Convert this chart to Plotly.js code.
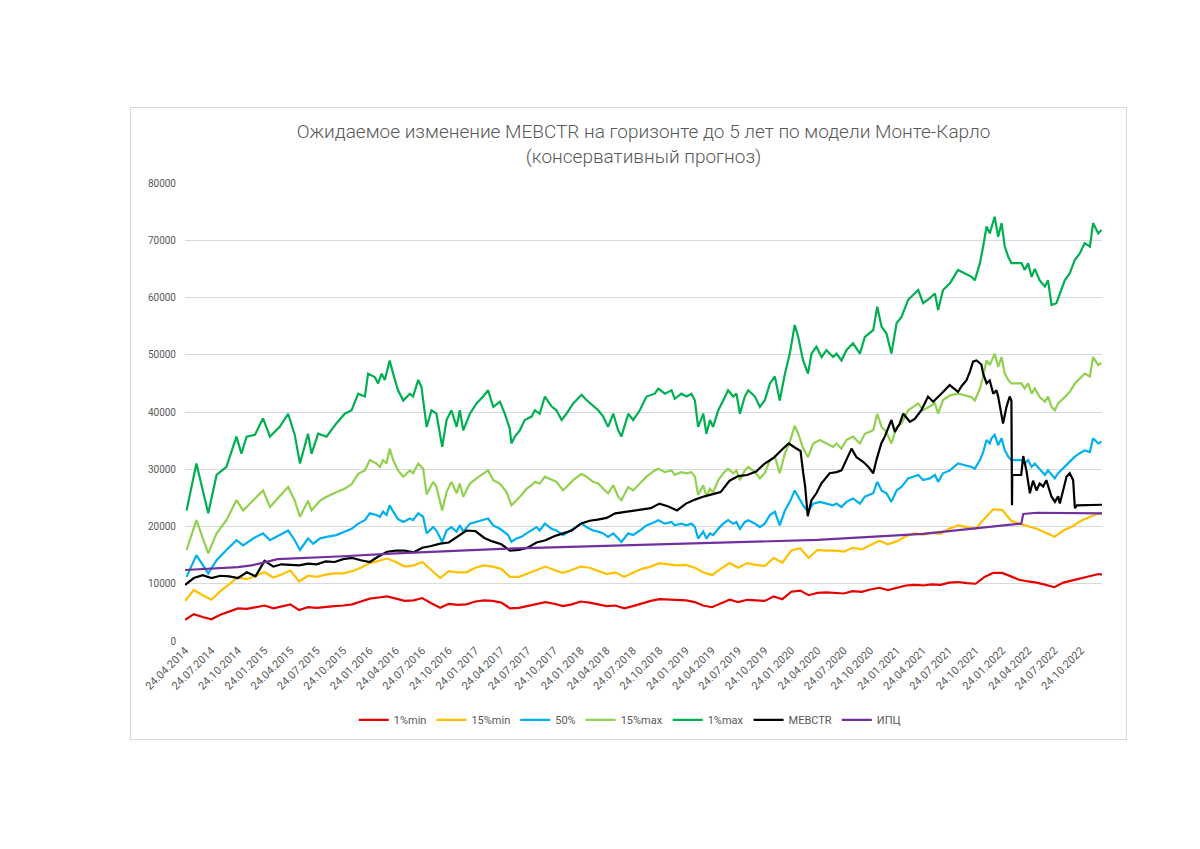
<!DOCTYPE html>
<html>
<head>
<meta charset="utf-8">
<script src="https://cdn.plot.ly/plotly-3.0.1.min.js"></script>
<style>
html,body{margin:0;padding:0;background:#fff;width:1200px;height:849px;overflow:hidden;}
#frame{position:absolute;left:130px;top:107px;width:997px;height:633px;border:1px solid #d9d9d9;box-sizing:border-box;}
#chart{width:995px;height:631px;}
</style>
</head>
<body>
<div id="frame"><div id="chart"></div></div>
<script>
// Monthly sample dates (24th of each month) for the lower percentile series
const dates = ['2014-04-24','2014-05-24','2014-06-24','2014-07-24','2014-08-24','2014-09-24','2014-10-24','2014-11-24','2014-12-24',
'2015-01-24','2015-02-24','2015-03-24','2015-04-24','2015-05-24','2015-06-24','2015-07-24','2015-08-24','2015-09-24','2015-10-24','2015-11-24','2015-12-24',
'2016-01-24','2016-02-24','2016-03-24','2016-04-24','2016-05-24','2016-06-24','2016-07-24','2016-08-24','2016-09-24','2016-10-24','2016-11-24','2016-12-24',
'2017-01-24','2017-02-24','2017-03-24','2017-04-24','2017-05-24','2017-06-24','2017-07-24','2017-08-24','2017-09-24','2017-10-24','2017-11-24','2017-12-24',
'2018-01-24','2018-02-24','2018-03-24','2018-04-24','2018-05-24','2018-06-24','2018-07-24','2018-08-24','2018-09-24','2018-10-24','2018-11-24','2018-12-24',
'2019-01-24','2019-02-24','2019-03-24','2019-04-24','2019-05-24','2019-06-24','2019-07-24','2019-08-24','2019-09-24','2019-10-24','2019-11-24','2019-12-24',
'2020-01-24','2020-02-24','2020-03-24','2020-04-24','2020-05-24','2020-06-24','2020-07-24','2020-08-24','2020-09-24','2020-10-24','2020-11-24','2020-12-24',
'2021-01-24','2021-02-24','2021-03-24','2021-04-24','2021-05-24','2021-06-24','2021-07-24','2021-08-24','2021-09-24','2021-10-24','2021-11-24','2021-12-24',
'2022-01-24','2022-02-24','2022-03-24','2022-04-24','2022-05-24','2022-06-24','2022-07-24','2022-08-24','2022-09-24','2022-10-24','2022-11-24','2022-12-24',
'2023-01-05'];

const min1 = [3700,4700,4200,3800,4600,5100,5700,5600,5900,6200,5700,6000,6400,5400,5900,5800,6000,6100,
6200,6400,6900,7400,7600,7800,7400,7000,7100,7500,6600,5800,6500,6300,6400,6900,7100,7000,
6700,5700,5800,6100,6400,6800,6500,6100,6400,6900,6700,6400,6100,6200,5700,6100,6600,
7000,7300,7200,7100,7100,6800,6200,5900,6600,7200,6800,7200,7100,7000,7800,7300,8600,8800,
8000,8400,8500,8400,8300,8700,8600,9000,9300,8900,9300,9700,9800,9700,9900,9800,10200,
10300,10100,10000,11200,11900,11900,11200,10700,10400,10200,9800,9400,10200,10600,11000,11300,11700,11600];

const min15 = [7000,8900,8000,7200,8700,9900,11100,10800,11400,12000,11100,11600,12300,10400,11400,11200,11600,11800,
11800,12200,12800,13600,14000,14400,13800,13000,13200,13800,12400,11000,12200,12000,12000,12800,13200,13000,
12600,11200,11200,11800,12400,13000,12400,11900,12400,13000,12800,12300,11700,12000,11200,11900,12600,
13000,13600,13400,13200,13300,12800,12000,11500,12600,13600,12800,13600,13300,13100,14500,13700,15800,16200,
14500,15900,15800,15800,15600,16300,16000,16800,17500,16900,17400,18300,18800,18600,18900,18700,19600,
20200,19900,19600,21400,23000,22900,21000,20500,20000,19600,18900,18200,19300,20000,21000,21700,22300,22200];

// Finer samples for the upper series: day numbers counted from 24.04.2014
const median50Day = [5,39,80,109,143,178,201,236,270,294,328,357,380,398,426,444,467,490,524,
553,577,600,623,640,663,675,686,698,709,721,738,756,779,790,808,825,837,860,871,891,906,923,941,952,964,987,1010,1033,1050,1068,
1091,1120,1131,1148,1166,1183,1201,1218,1229,1247,1270,1287,1310,1328,1345,1374,1391,1414,1432,1449,1466,1484,1501,1512,1536,1553,1576,1599,
1628,1640,1663,1686,1697,1720,1738,1755,1767,1778,1796,1807,1819,1830,1848,1865,1882,1900,1911,1923,1940,1952,1975,1992,2009,2027,2044,2061,2079,2096,2113,2125,2142,
2159,2177,2200,2246,2258,2275,2292,2315,2339,2356,2385,2399,2414,2431,2448,2466,2483,2506,2541,2558,2581,2599,2610,2627,2651,
2679,2703,2726,2737,2755,2766,2778,2789,2795,2806,2818,2830,2841,2853,2864,2899,2910,2922,2934,2945,2962,2980,2991,3009,3014,3026,3049,3066,3084,3101,3118,3136,3147,3165,3176];
const median50 = [11200,15000,11800,14100,15900,17600,16700,17900,18800,17600,18500,19300,17600,15900,17900,17000,17900,18200,18500,
19100,19600,20500,21100,22300,22000,21700,22600,22000,23700,22600,21300,20800,21400,21100,22300,21700,18800,19900,19300,17300,19300,19900,19100,20200,19100,20500,20800,21100,21400,20200,
19600,18500,17300,17900,18200,18800,19300,19900,19300,20500,19600,19300,18500,19100,19600,20500,19900,19300,19100,18800,18200,18800,17900,17300,18800,18500,19300,20200,
20800,21100,20500,20800,20200,20500,20200,20500,19900,17900,19100,17900,18800,18500,19600,20500,21100,20500,20800,19600,20800,21100,20500,19900,20500,22000,22600,20200,22800,24300,26300,25200,23700,
22600,24000,24300,23700,24000,23400,24300,24900,24000,25200,25800,27800,26300,25800,24300,26300,26900,28400,29000,28100,28400,29000,27800,29300,29800,
31000,30700,30400,30100,31600,33000,35100,34500,35400,36000,34200,35400,33300,32200,31600,31600,31000,31600,30400,31000,30100,29000,29800,28700,28400,29300,30400,31300,32200,32800,33300,33000,35400,34500,34800];

const max15Day = [5,39,80,109,143,178,201,236,270,294,328,357,380,398,426,438,467,490,524,
553,577,600,623,640,663,675,686,698,709,721,738,756,779,790,808,825,837,860,871,891,906,923,941,952,964,987,1010,1033,1050,1068,
1091,1114,1125,1131,1148,1166,1183,1201,1212,1229,1247,1270,1287,1310,1328,1345,1374,1391,1414,1432,1449,1466,1484,1501,1512,1536,1553,1576,1599,
1628,1640,1663,1686,1697,1720,1738,1755,1767,1778,1796,1807,1819,1830,1848,1865,1882,1900,1911,1923,1940,1952,1975,1992,2009,2027,2044,2061,2079,2096,2113,2125,2142,
2159,2177,2200,2246,2258,2275,2292,2315,2339,2356,2385,2399,2414,2431,2448,2466,2483,2506,2541,2558,2581,2599,2610,2627,2651,
2679,2703,2726,2737,2755,2766,2778,2789,2795,2806,2818,2830,2841,2853,2864,2899,2910,2922,2934,2945,2962,2980,2991,3003,3014,3026,3049,3066,3084,3101,3118,3136,3147,3165,3176];
const max15 = [15900,21100,15300,18800,21100,24600,22800,24600,26300,23400,25200,26900,24500,21700,24500,22800,24500,25200,26000,
26600,27400,29200,29800,31600,31000,30400,31600,31000,33600,31600,29800,28700,29800,29300,31000,30100,25600,27800,26900,22800,26000,27800,25800,27500,25200,27500,28400,29300,29800,28100,
27500,26000,24600,23700,24600,25500,26600,27200,27800,27500,28700,28100,27800,26300,27200,28100,29200,28700,27800,27500,26600,25800,27200,25200,24600,26900,26300,27500,28700,
29800,30100,29500,29800,29000,29500,29300,29500,28700,25500,27200,25200,26600,26000,28100,29300,30100,29300,29800,28100,29800,30400,29500,28400,29300,31600,32200,29300,32800,34800,37600,36200,33700,
32100,34500,35100,33900,34500,33600,35100,35700,34500,36200,36800,39700,37400,36500,34500,37400,38000,40300,41500,40300,40900,41500,39700,42100,42900,
43200,42900,42600,42000,44100,46200,49000,48200,49000,50200,47900,49600,46700,45600,45000,45000,44100,45000,43200,44100,42600,41800,42700,40900,40300,41500,42600,43500,45000,45900,46700,46200,49600,48200,48600];

const max1Day = [5,28,39,80,109,143,178,195,213,242,270,294,328,357,380,398,426,438,461,490,524,
553,577,600,623,634,657,669,681,692,709,721,738,756,779,790,808,819,837,854,871,891,906,923,941,952,964,987,1010,1033,1050,1068,
1091,1108,1125,1131,1143,1160,1177,1201,1212,1229,1247,1270,1287,1305,1322,1345,1374,1391,1414,1432,1449,1466,1484,1501,1512,1536,1553,1576,1599,
1628,1640,1663,1686,1697,1720,1738,1755,1767,1778,1796,1807,1819,1830,1848,1865,1882,1900,1911,1923,1940,1952,1975,1992,2009,2027,2044,2061,2079,2096,2113,2125,2142,
2159,2171,2188,2206,2223,2246,2258,2275,2292,2315,2339,2356,2385,2399,2414,2431,2448,2466,2483,2506,2541,2558,2581,2599,2610,2627,2651,
2679,2703,2726,2737,2755,2766,2778,2789,2795,2806,2818,2830,2841,2853,2864,2899,2910,2922,2934,2945,2962,2980,2991,3003,3020,3032,3049,3066,3084,3101,3118,3136,3147,3165,3176];
const max1 = [22800,28000,31000,22300,29000,30400,35700,32700,35700,36000,38900,35700,37400,39700,36000,31000,36200,32700,36200,35700,38000,
39700,40300,43200,42700,46700,46100,45000,46700,45600,49000,46700,43800,42000,43200,42700,45600,44400,37400,40300,39700,33900,38600,40300,37400,40300,36800,39700,41500,42700,43800,40900,
41800,39700,37100,34500,35700,36800,38600,39200,40300,39700,42700,41000,40300,38600,39700,41500,43000,42100,41000,40300,39200,37400,39700,36800,35700,39700,38600,40300,42700,
43200,44100,43200,43800,42300,43200,42700,43200,42000,37400,39700,36200,38600,37400,40300,42000,43800,42700,43200,39700,42700,43800,42700,40900,42000,45000,46200,42000,46700,50200,55200,53100,49000,
46700,50200,51400,49600,50800,49600,50200,49000,50800,52000,50200,53100,54300,58400,54900,53700,50200,55500,56600,59600,61300,59000,59900,60700,57800,61300,62500,
64800,64200,63600,63000,66000,68900,72400,71200,72400,74100,70600,73000,68900,67100,66000,66000,64800,66000,63600,65000,63000,61900,63000,58700,59000,60700,63000,64200,66600,67700,69500,68900,73000,71200,71800];

// MEBCTR index (own sample dates)
const mebDates = ['2014-04-24','2014-05-24','2014-06-24','2014-07-24','2014-08-24','2014-09-24','2014-10-24','2014-11-24','2014-12-24',
'2015-01-24','2015-02-24','2015-03-24','2015-04-24','2015-05-24','2015-06-24','2015-07-24','2015-08-24','2015-09-24','2015-10-24','2015-11-24','2015-12-24',
'2016-01-24','2016-02-24','2016-03-24','2016-04-24','2016-05-24','2016-06-24','2016-07-24','2016-08-24','2016-09-24','2016-10-24','2016-11-24','2016-12-24',
'2017-01-24','2017-02-24','2017-03-24','2017-04-24','2017-05-24','2017-06-24','2017-07-24','2017-08-24','2017-09-24','2017-10-24','2017-11-24','2017-12-24',
'2018-01-24','2018-02-24','2018-03-24','2018-04-24','2018-05-24','2018-06-24','2018-07-24','2018-08-24','2018-09-24','2018-10-24','2018-11-24','2018-12-24',
'2019-01-24','2019-02-24','2019-03-24','2019-04-24','2019-05-24','2019-06-24','2019-07-24','2019-08-24','2019-09-24','2019-10-24','2019-11-24','2019-12-24',
'2020-01-15','2020-02-05','2020-02-25','2020-03-05','2020-03-12','2020-03-21','2020-04-03','2020-04-20','2020-05-07','2020-06-05','2020-06-29',
'2020-07-16','2020-08-02','2020-08-20','2020-09-06','2020-09-29','2020-10-16','2020-11-03','2020-11-14','2020-12-01','2020-12-13','2020-12-25',
'2021-01-05','2021-01-17','2021-02-03','2021-02-15','2021-03-10','2021-03-27','2021-04-19','2021-05-12','2021-05-30','2021-07-03','2021-07-26',
'2021-08-24','2021-09-05','2021-09-22','2021-10-04','2021-10-15','2021-10-27','2021-11-13','2021-11-19','2021-12-01','2021-12-12','2021-12-24',
'2022-01-04','2022-01-10','2022-01-27','2022-02-08','2022-02-19','2022-02-25','2022-02-27','2022-02-28','2022-03-31','2022-04-07','2022-04-18',
'2022-04-30','2022-05-11','2022-05-23','2022-06-03','2022-06-15','2022-06-26','2022-07-14','2022-07-26','2022-08-06','2022-08-12','2022-08-23',
'2022-09-04','2022-09-15','2022-09-27','2022-10-03','2022-10-10','2023-01-05'];

const mebctr = [9800,11000,11500,11000,11400,11300,11000,12000,11300,
14000,13000,13400,13300,13200,13500,13400,13900,13800,14300,14500,14100,
13800,14800,15600,15800,15800,15500,16300,16600,17000,17200,18200,19300,
19200,18000,17400,16900,15800,15900,16300,17200,17600,18300,18800,19300,
20500,21000,21200,21500,22300,22500,22700,23000,23200,24000,23500,22800,
24000,24700,25200,25600,26000,28000,28800,29000,29600,31000,32000,33500,
34500,33800,33200,29500,27000,21800,24600,25800,27500,29300,29500,
29800,31600,33600,32100,31300,30500,29300,31600,34500,35700,37400,
38600,36500,38000,39700,38300,38800,40300,42700,41800,43500,44700,
43500,44500,45500,47000,48800,49000,48300,46700,45000,45500,43200,
43800,42700,38000,40900,42700,42000,23700,29000,29000,32300,29800,
25800,28000,26300,27500,27000,28100,25200,24300,25300,24000,26300,
28700,29300,28100,23200,23700,23800];

// CPI (ИПЦ)
const cpiDates = ['2014-04-24','2014-10-24','2014-12-10','2015-03-10','2015-10-24','2016-04-24','2017-04-24','2018-04-24',
'2019-04-24','2020-04-24','2021-04-24','2021-10-24','2022-03-31','2022-04-07','2022-05-24','2023-01-05'];
const cpi = [12400,12900,13200,14300,14800,15300,16100,16600,17100,17650,18700,19700,20500,22200,22400,22300];

const seriesNames = ['1%min','15%min','50%','15%max','1%max','MEBCTR','ИПЦ'];
const seriesColors = ['#e60000','#ffc000','#00b0f0','#92d050','#00b050','#000000','#7030a0'];

// convert day numbers (from 24.04.2014) to date strings
const startMs = Date.UTC(2014, 3, 24);
const dayToDate = d => new Date(startMs + d * 86400000).toISOString().slice(0, 10);

const xs = [dates, dates, median50Day.map(dayToDate), max15Day.map(dayToDate), max1Day.map(dayToDate), mebDates, cpiDates];
const ys = [min1, min15, median50, max15, max1, mebctr, cpi];

const traces = ys.map((y,i)=>({
  type:'scatter', mode:'lines', x:xs[i], y:y, name:seriesNames[i],
  line:{color:seriesColors[i], width:2.2}, hoverinfo:'skip'
}));

const gray = '#595959';
const layout = {
  width:995, height:631,
  margin:{l:54, r:24, t:75, b:98, autoexpand:false},
  paper_bgcolor:'#fff', plot_bgcolor:'#fff',
  font:{family:'Roboto, "Open Sans", sans-serif', color:gray, size:11},
  title:{text:'Ожидаемое изменение MEBCTR на горизонте до 5 лет по модели Монте-Карло<br>(консервативный прогноз)',
    font:{size:19, color:gray, family:'Roboto, "Open Sans", sans-serif', weight:300},
    x:0.5, xref:'paper', xanchor:'center', yref:'container', y:1-30/631, yanchor:'top'},
  xaxis:{type:'date', range:['2014-04-23 12:00','2023-01-05'], tick0:'2014-04-24', dtick:'M3',
    tickformat:'%d.%m.%Y', tickangle:-45, showgrid:false, zeroline:false, showline:false,
    ticks:'', automargin:false, tickfont:{size:11, color:gray}},
  yaxis:{range:[0,80000], dtick:10000, tickformat:'d', showgrid:true, gridcolor:'#d9d9d9', gridwidth:1,
    zeroline:false, showline:false, ticks:'', automargin:false, ticklabelstandoff:8, tickfont:{size:10, color:gray}},
  legend:{orientation:'h', x:0.485, xanchor:'center', y:-0.172, yanchor:'middle',
    font:{size:11, color:gray}, itemwidth:30, tracegroupgap:0},
  hovermode:false, showlegend:true
};

Plotly.newPlot('chart', traces, layout, {displayModeBar:false, staticPlot:true});
</script>
</body>
</html>
